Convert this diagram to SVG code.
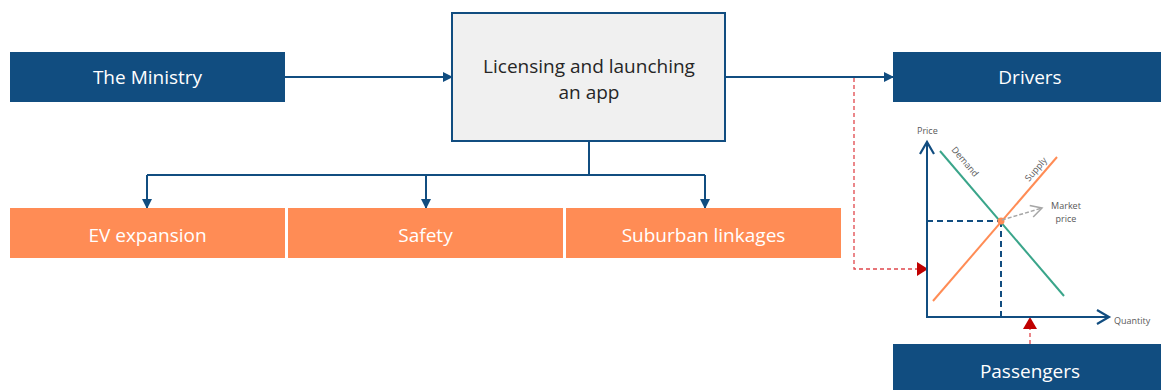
<svg xmlns="http://www.w3.org/2000/svg" width="1161" height="390" viewBox="0 0 1161 390">
<style>
.dark{fill:#114D80}
.org{fill:#FF8C55}
.lbl{font-family:"Open Sans","Liberation Sans",sans-serif;font-size:19px;text-anchor:middle;fill:#FFFFFF}
.blk{font-family:"Open Sans","Liberation Sans",sans-serif;font-size:19px;text-anchor:middle;fill:#262626}
.conn{stroke:#114D80;stroke-width:2;fill:none}
.red{stroke:#E0474C;stroke-width:1.3;fill:none;stroke-dasharray:4 3}
.small{font-family:"Open Sans","Liberation Sans",sans-serif;font-size:9px;fill:#595959}
</style>
<defs>
<marker id="ah" markerWidth="10" markerHeight="10" refX="9" refY="5" orient="auto" markerUnits="userSpaceOnUse">
<path d="M0,0 L10,5 L0,10 Z" fill="#114D80"/>
</marker>
<marker id="gh" markerWidth="14" markerHeight="14" refX="12" refY="7" orient="auto" markerUnits="userSpaceOnUse">
<path d="M1,1 L12,7 L1,13" fill="none" stroke="#A6A6A6" stroke-width="1.5"/>
</marker>
</defs>

<g id="connectors">
<line class="conn" x1="285" y1="77" x2="452" y2="77" marker-end="url(#ah)"/>
<line class="conn" x1="725" y1="77" x2="893" y2="77" marker-end="url(#ah)"/>
<polyline class="conn" points="589,141 589,175"/>
<polyline class="conn" points="147,175 705,175"/>
<line class="conn" x1="147" y1="175" x2="147" y2="208" marker-end="url(#ah)"/>
<line class="conn" x1="426" y1="175" x2="426" y2="208" marker-end="url(#ah)"/>
<line class="conn" x1="705" y1="175" x2="705" y2="208" marker-end="url(#ah)"/>
<polyline class="red" points="854,78 854,269 918,269"/>
<path d="M917,262 L928,269 L917,276 Z" fill="#C00000"/>
<line class="red" x1="1030" y1="344" x2="1030" y2="327"/>
<path d="M1023,329 L1030,317 L1037,329 Z" fill="#C00000"/>
</g>

<g id="ministry">
<rect class="dark" x="10" y="52" width="275" height="50"/>
<text class="lbl" x="147.5" y="84">The Ministry</text>
</g>

<g id="licensing">
<rect x="452" y="13" width="273" height="128" fill="#F0F0F0" stroke="#114D80" stroke-width="2"/>
<text class="blk" x="589" y="73">Licensing and launching</text>
<text class="blk" x="589" y="99">an app</text>
</g>

<g id="drivers">
<rect class="dark" x="893" y="52" width="268" height="50"/>
<text class="lbl" x="1030" y="84">Drivers</text>
</g>

<g id="ev">
<rect class="org" x="10" y="208" width="275" height="50"/>
<text class="lbl" x="147.5" y="242">EV expansion</text>
</g>
<g id="safety">
<rect class="org" x="288" y="208" width="275" height="50"/>
<text class="lbl" x="425.5" y="242">Safety</text>
</g>
<g id="suburban">
<rect class="org" x="566" y="208" width="275" height="50"/>
<text class="lbl" x="703.5" y="242">Suburban linkages</text>
</g>

<g id="passengers">
<rect class="dark" x="893" y="344" width="268" height="46"/>
<text class="lbl" x="1030" y="378">Passengers</text>
</g>

<g id="chart">
<polyline points="927,143 927,317 1108,317" fill="none" stroke="#114D80" stroke-width="2"/>
<path d="M920,154 L927,142 L934,154" fill="none" stroke="#114D80" stroke-width="2.2"/>
<path d="M1097,310 L1109,317 L1097,324" fill="none" stroke="#114D80" stroke-width="2.2"/>
<text class="small" x="917" y="134">Price</text>
<text class="small" x="1114" y="324">Quantity</text>
<line x1="927" y1="221" x2="1001" y2="221" stroke="#114D80" stroke-width="2" stroke-dasharray="6 4"/>
<line x1="1001" y1="221" x2="1001" y2="317" stroke="#114D80" stroke-width="2" stroke-dasharray="6 4"/>
<line x1="940" y1="151" x2="1064" y2="296" stroke="#3AA58A" stroke-width="2"/>
<line x1="933" y1="301" x2="1057" y2="157" stroke="#FF8C55" stroke-width="2"/>
<circle cx="1001" cy="221" r="3.5" fill="#FF8C55"/>
<line x1="1002" y1="220" x2="1042" y2="208" stroke="#A6A6A6" stroke-width="1.5" stroke-dasharray="4 2" marker-end="url(#gh)"/>
<text class="small" x="1066" y="209" text-anchor="middle">Market</text>
<text class="small" x="1066" y="222" text-anchor="middle">price</text>
<text class="small" x="0" y="0" fill="#3AA58A" transform="translate(951,150) rotate(49.5)">Demand</text>
<text class="small" x="0" y="0" fill="#FF8C55" transform="translate(1029,182) rotate(-49)">Supply</text>
</g>
</svg>
